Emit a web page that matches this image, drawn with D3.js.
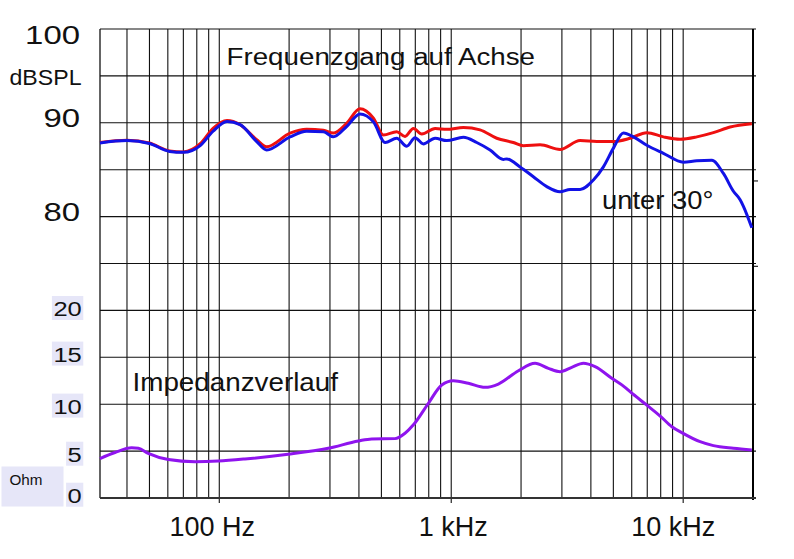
<!DOCTYPE html>
<html><head><meta charset="utf-8">
<script src="https://cdn.jsdelivr.net/npm/d3@7"></script>
<style>
html,body{margin:0;padding:0;background:#fff;}
svg{display:block;font-family:"Liberation Sans", Arial, Helvetica, sans-serif;}
</style></head>
<body><svg id="c" width="794" height="559"></svg>
<script>
// ---- data (frequency in Hz, level in dB SPL / impedance in Ohm) ----
const onAxis = [
  [30.6,87.9],[40,88.15],[50,87.85],[61,87.0],[70,86.9],[83,87.8],[94,89.4],[108,90.25],[123,89.8],
  [145,88.2],[160,87.45],[202,88.9],[238,89.3],[281,89.2],[310,88.9],[354,89.95],[404,91.5],[462,90.5],
  [510,88.7],[582,89.05],[632,88.55],[687,89.4],[746,88.8],[852,89.4],[957,89.3],[1128,89.5],[1331,89.25],
  [1571,88.35],[1853,87.9],[2047,87.55],[2416,87.65],[2946,87.15],[3593,88.1],[4243,88.0],[5004,88.0],
  [5904,88.35],[6970,88.95],[8217,88.5],[9699,88.25],[11447,88.5],[13497,88.95],[15937,89.55],[19768,89.9]
];
const offAxis30 = [
  [30.6,87.85],[40,88.1],[50,87.8],[61,86.95],[70,86.85],[83,87.6],[94,89.1],[108,90.15],[123,89.8],
  [145,88.0],[160,87.1],[202,88.5],[238,89.1],[281,89.05],[310,88.5],[354,89.6],[404,90.95],[462,90.1],
  [519,87.9],[582,88.35],[643,87.5],[698,88.4],[758,87.75],[852,88.35],[957,88.1],[1128,88.45],[1288,87.9],
  [1470,87.1],[1678,86.1],[1735,86.15],[1980,85.3],[2260,84.25],[2582,83.2],[2946,82.65],[3253,82.9],
  [3593,82.9],[4102,83.9],[4530,85.3],[5004,87.3],[5523,88.9],[6100,88.5],[6970,87.6],[8217,86.75],
  [10022,85.8],[11447,85.95],[13284,86.0],[14911,84.6],[16466,82.7],[17598,81.8],[18185,81.1],[19768,78.8]
];
const impedance = [
  [30.6,4.2],[35.5,4.85],[41.9,5.35],[44.8,5.3],[49.4,4.75],[60.3,4.1],[78.6,3.87],[99,3.94],[129,4.16],
  [198,4.66],[295,5.3],[398,6.08],[454,6.3],[572,6.33],[632,6.9],[687,7.8],[797,10.1],[910,12.05],
  [1021,12.5],[1185,12.23],[1399,11.8],[1597,12.15],[1948,13.57],[2298,14.36],[2624,13.82],[2946,13.47],
  [3309,13.93],[3713,14.36],[4170,14.0],[4924,12.76],[5615,11.8],[5904,11.33],[6970,9.9],[7959,8.74],
  [8939,7.6],[9862,6.97],[11828,6.0],[13497,5.58],[16466,5.3],[19768,5.12]
];
const dbTickValues = [100, 90, 80];
const ohmTickValues = [20, 15, 10, 5, 0];
const freqTickValues = [100, 1000, 10000];
const freqTickLabels = ["100 Hz", "1 kHz", "10 kHz"];
const rightTickDb = [83.8, 74.7];

// ---- layout ----
const svg = d3.select("#c");
const x = d3.scaleLog().domain([30.6, 20000]).range([100, 753]);
const yDb = d3.scaleLinear().domain([50, 100]).range([498, 29]);
const yOhm = d3.scaleLinear().domain([0, 50]).range([498, 29]);

// grid
const gridFreqs = [];
[10, 100, 1000, 10000].forEach(d => { for (let m = 1; m <= 9; m++) { const f = d * m; if (f > 31 && f < 20000) gridFreqs.push(f); } });
const g = svg.append("g");
g.selectAll("line.v").data(gridFreqs).join("line")
  .attr("x1", d => x(d)).attr("x2", d => x(d)).attr("y1", yOhm(50)).attr("y2", yOhm(0))
  .attr("stroke", "#111").attr("stroke-width", 1.1);
g.selectAll("line.h").data(d3.range(0, 51, 5)).join("line")
  .attr("x1", x.range()[0]).attr("x2", x.range()[1] + 3).attr("y1", d => yOhm(d)).attr("y2", d => yOhm(d))
  .attr("stroke", "#111").attr("stroke-width", 1.1);
// decade ticks below axis
g.selectAll("line.t").data(freqTickValues).join("line")
  .attr("x1", d => x(d)).attr("x2", d => x(d)).attr("y1", yOhm(0)).attr("y2", yOhm(0) + 5)
  .attr("stroke", "#111").attr("stroke-width", 1.1);
// right side ticks
g.selectAll("line.r").data(rightTickDb).join("line")
  .attr("x1", x.range()[1]).attr("x2", x.range()[1] + 5).attr("y1", d => yDb(d)).attr("y2", d => yDb(d))
  .attr("stroke", "#111").attr("stroke-width", 1.1);
// frame
g.append("line").attr("x1", x.range()[0]).attr("x2", x.range()[0]).attr("y1", 29).attr("y2", 498).attr("stroke", "#111").attr("stroke-width", 1.3);
g.append("line").attr("x1", x.range()[1]).attr("x2", x.range()[1]).attr("y1", 29).attr("y2", 500).attr("stroke", "#000").attr("stroke-width", 2);
g.append("line").attr("x1", x.range()[0]).attr("x2", x.range()[1] + 3).attr("y1", yOhm(0)).attr("y2", yOhm(0)).attr("stroke", "#333").attr("stroke-width", 2);

// curves
const lineDb = d3.line().x(d => x(d[0])).y(d => yDb(d[1])).curve(d3.curveMonotoneX);
const lineOhm = d3.line().x(d => x(d[0])).y(d => yOhm(d[1])).curve(d3.curveMonotoneX);
svg.append("path").attr("d", lineOhm(impedance)).attr("fill", "none").attr("stroke", "#8f14ee").attr("stroke-width", 3);
svg.append("path").attr("d", lineDb(onAxis)).attr("fill", "none").attr("stroke", "#ee1010").attr("stroke-width", 3);
svg.append("path").attr("d", lineDb(offAxis30)).attr("fill", "none").attr("stroke", "#1212e6").attr("stroke-width", 3);

// texts
function txt(s, tx, ty, size, len, anchor) {
  const t = svg.append("text").attr("x", tx).attr("y", ty).attr("font-size", size).attr("fill", "#111")
    .attr("text-anchor", anchor || "start").text(s);
  if (len) t.attr("textLength", len).attr("lengthAdjust", "spacingAndGlyphs");
  return t;
}
// dB labels
const dbDy = {100: 15, 90: 4.5, 80: 4.5};
dbTickValues.forEach(v => txt(String(v), 80, yDb(v) + dbDy[v], 26.5, String(v).length * 18.3, "end"));
txt("dBSPL", 81.5, 85, 22.5, 72, "end");

// Ohm labels with light background
const ohmDy = {20: 5.6, 15: 4.3, 10: 9.4, 5: 10.6, 0: 4.7};
svg.append("rect").attr("x", 1.5).attr("y", 466.5).attr("width", 62).attr("height", 40).attr("fill", "#e6e6f8");
txt("Ohm", 9.5, 485, 15, 33);
ohmTickValues.forEach(v => {
  const s = String(v);
  const t = txt(s, 81.8, yOhm(v) + ohmDy[v], 20.5, s.length * 14.2, "end");
  const b = t.node().getBBox();
  svg.insert("rect", "text").attr("x", b.x - 1.5).attr("y", b.y - 1).attr("width", b.width + 3).attr("height", b.height + 1)
    .attr("fill", "#e6e6f8");
});

// frequency labels
const fDx = {100: -7, 1000: 2, 10000: -10};
freqTickValues.forEach((f, i) => {
  const s = freqTickLabels[i];
  txt(s, x(f) + fDx[f], 536, 27, null, "middle");
});

// annotations
txt("Frequenzgang auf Achse", 226.5, 64.5, 23, 308.5);
txt("unter 30°", 602, 209, 25, 111.5);
txt("Impedanzverlauf", 132.5, 390.5, 25, 205.5);
</script>
</body></html>
